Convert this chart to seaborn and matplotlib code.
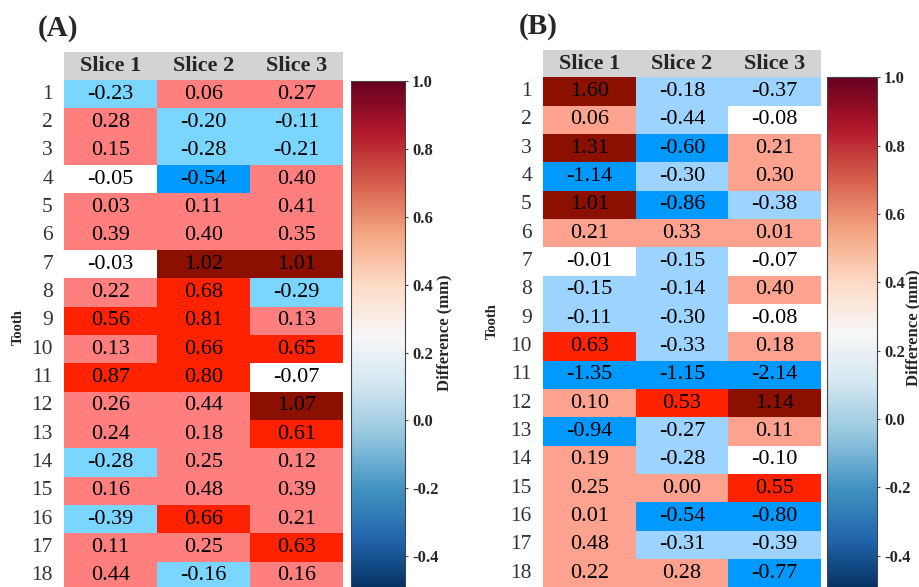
import numpy as np
import pandas as pd
import matplotlib
matplotlib.use("Agg")
import matplotlib.pyplot as plt
import seaborn as sns
from matplotlib.colors import ListedColormap, BoundaryNorm, Normalize
from matplotlib.cm import ScalarMappable
from matplotlib.patches import Rectangle

sns.set_style("white")
plt.rcParams["font.family"] = ["Liberation Serif", "DejaVu Serif"]

# --- data ---
teeth = [str(i) for i in range(1, 19)]
slices = ["Slice 1", "Slice 2", "Slice 3"]

diff_a_slice1 = [-0.23, 0.28, 0.15, -0.05, 0.03, 0.39, -0.03, 0.22, 0.56,
                 0.13, 0.87, 0.26, 0.24, -0.28, 0.16, -0.39, 0.11, 0.44]
diff_a_slice2 = [0.06, -0.20, -0.28, -0.54, 0.11, 0.40, 1.02, 0.68, 0.81,
                 0.66, 0.80, 0.44, 0.18, 0.25, 0.48, 0.66, 0.25, -0.16]
diff_a_slice3 = [0.27, -0.11, -0.21, 0.40, 0.41, 0.35, 1.01, -0.29, 0.13,
                 0.65, -0.07, 1.07, 0.61, 0.12, 0.39, 0.21, 0.63, 0.16]

diff_b_slice1 = [1.60, 0.06, 1.31, -1.14, 1.01, 0.21, -0.01, -0.15, -0.11,
                 0.63, -1.35, 0.10, -0.94, 0.19, 0.25, 0.01, 0.48, 0.22]
diff_b_slice2 = [-0.18, -0.44, -0.60, -0.30, -0.86, 0.33, -0.15, -0.14, -0.30,
                 -0.33, -1.15, 0.53, -0.27, -0.28, 0.00, -0.54, -0.31, 0.28]
diff_b_slice3 = [-0.37, -0.08, 0.21, 0.30, -0.38, 0.01, -0.07, 0.40, -0.08,
                 0.18, -2.14, 1.14, 0.11, -0.10, 0.55, -0.80, -0.39, -0.77]

cbar_ticks = [-0.4, -0.2, 0.0, 0.2, 0.4, 0.6, 0.8, 1.0]

# discrete bins used to colour the cells
bins = [-3.0, -0.5, -0.1, 0.0, 0.5, 1.0, 3.0]
colors_a = ["#0099FF", "#7AD5FF", "#FFFFFF", "#FF7F7F", "#FF2200", "#8B1000"]
colors_b = ["#0099FF", "#9DD3FF", "#FFFFFF", "#FCA28E", "#FF2200", "#8B1000"]

df_a = pd.DataFrame({"Slice 1": diff_a_slice1, "Slice 2": diff_a_slice2,
                     "Slice 3": diff_a_slice3}, index=teeth)
df_b = pd.DataFrame({"Slice 1": diff_b_slice1, "Slice 2": diff_b_slice2,
                     "Slice 3": diff_b_slice3}, index=teeth)

W, H = 920, 587
fig = plt.figure(figsize=(W / 100, H / 100), dpi=100)


def fx(px):
    return px / W


def fy(py):
    return 1 - py / H


def draw_panel(df, colors, hm_box, cb_box, header_h, letter, letter_xy,
               tooth_xy, cblabel_xy):
    x0, x1, y0, y1 = hm_box
    ax = fig.add_axes([fx(x0), fy(y1), fx(x1 - x0), (y1 - y0) / H])
    cmap = ListedColormap(colors)
    norm = BoundaryNorm(bins, cmap.N)
    sns.heatmap(df, ax=ax, cmap=cmap, norm=norm, cbar=False, annot=True,
                fmt=".2f", annot_kws={"size": 16, "color": "black"},
                xticklabels=False, yticklabels=True)
    ax.tick_params(axis="y", length=0, pad=8, labelsize=15.5, labelcolor="#333333")
    plt.setp(ax.get_yticklabels(), rotation=0)
    ax.set_ylabel("")
    ax.set_xlabel("")

    # grey header band with the slice names
    hh = header_h / (y1 - y0)
    ax.add_patch(Rectangle((0, 1), 1, hh, transform=ax.transAxes,
                           facecolor="#D3D3D3", edgecolor="none", clip_on=False))
    for i, name in enumerate(df.columns):
        ax.text((i + 0.5) / len(df.columns), 1 + hh / 2, name,
                transform=ax.transAxes, ha="center", va="center",
                fontsize=16, fontweight="bold")

    # continuous colour bar
    cx0, cx1, cy0, cy1 = cb_box
    cax = fig.add_axes([fx(cx0), fy(cy1), fx(cx1 - cx0), (cy1 - cy0) / H])
    sm = ScalarMappable(norm=Normalize(vmin=-0.5, vmax=1.0), cmap="RdBu_r")
    cb = fig.colorbar(sm, cax=cax, ticks=cbar_ticks)
    cb.outline.set_edgecolor("#444444")
    cb.outline.set_linewidth(0.8)
    cax.tick_params(length=2, width=0.6, labelsize=12, pad=3)
    cax.set_yticklabels([f"{t:.1f}" for t in cbar_ticks], fontweight="bold")

    fig.text(fx(cblabel_xy[0]), fy(cblabel_xy[1]), "Difference (mm)",
             rotation=90, ha="center", va="center", fontsize=12,
             fontweight="bold")
    fig.text(fx(tooth_xy[0]), fy(tooth_xy[1]), "Tooth", rotation=90,
             ha="center", va="center", fontsize=10.5, fontweight="bold")
    fig.text(fx(letter_xy[0]), fy(letter_xy[1]), letter, ha="left",
             va="center", fontsize=21, fontweight="bold")


draw_panel(df_a, colors_a, (64, 343, 80, 590), (351, 405, 81.5, 590), 28,
           "(A)", (38, 29), (18.5, 327), (444, 333))
draw_panel(df_b, colors_b, (543, 821, 77.3, 587.3), (827, 877, 77.3, 590), 27.3,
           "(B)", (519, 27), (492, 321), (913, 328))

fig.savefig("out.png", dpi=100)
